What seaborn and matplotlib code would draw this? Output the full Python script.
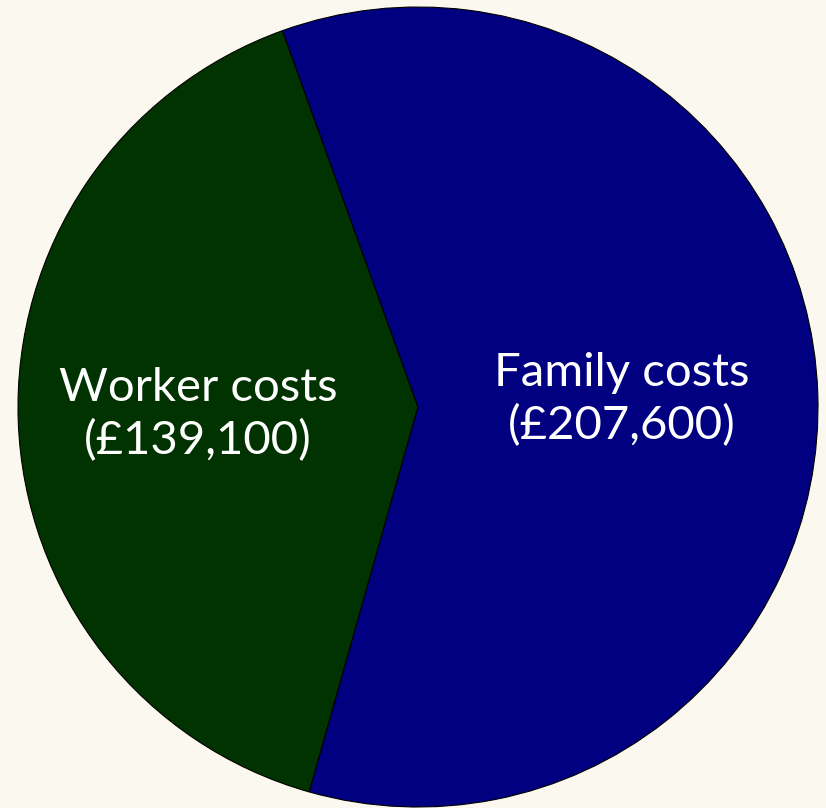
import numpy as np
import seaborn as sns
from matplotlib import pyplot as plt

labels = ["Worker costs", "Family costs"]
values = [139100, 207600]
colors = ["#003300", "#000080"]

sns.set_theme(style="white")
plt.rcParams["font.family"] = ["Lato", "DejaVu Sans"]

fig = plt.figure(figsize=(8.26, 8.08), dpi=100)
fig.patch.set_facecolor("#FBF9EF")
ax = fig.add_axes([18 / 826, 1 / 808, 800 / 826, 800 / 808])
ax.set_facecolor("none")

texts = [f"{lab}\n(£{val:,})" for lab, val in zip(labels, values)]
wedges, _ = ax.pie(values, colors=colors, startangle=109.8, counterclock=True,
                   wedgeprops=dict(edgecolor="black", linewidth=0.8))

# label each wedge along its mid angle
for w, txt, r in zip(wedges, texts, [0.55, 0.51]):
    mid = np.deg2rad((w.theta1 + w.theta2) / 2)
    ax.text(r * np.cos(mid), r * np.sin(mid), txt, ha="center", va="center",
            color="white", fontsize=34, linespacing=1.3)

ax.set_xlim(-1, 1)
ax.set_ylim(-1, 1)
ax.set_aspect("auto")
ax.axis("off")
fig.savefig("out.png", dpi=100, facecolor=fig.get_facecolor())
